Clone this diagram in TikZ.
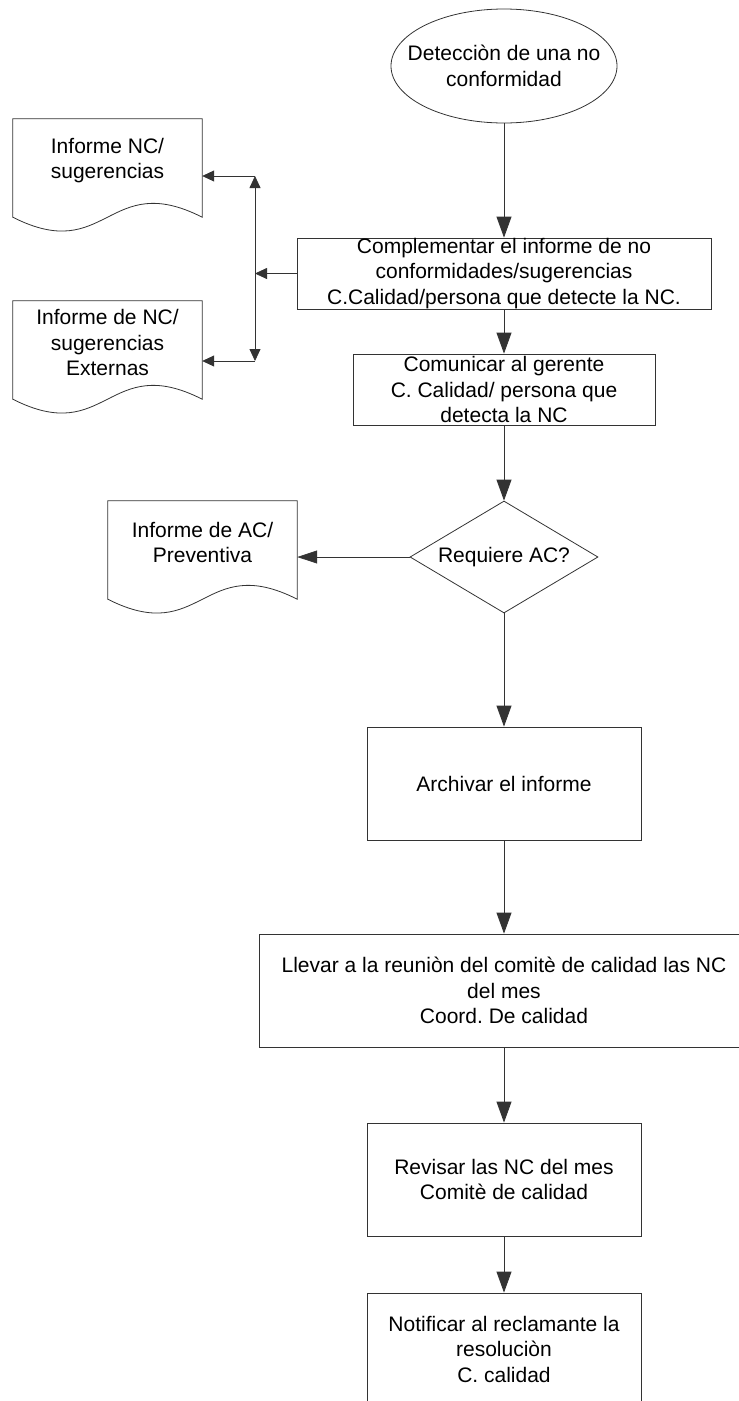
\documentclass[tikz,border=0pt]{standalone}
\usepackage{fontspec}
\setmainfont{Liberation Sans}
\usetikzlibrary{shapes.geometric,arrows.meta,calc}
\frenchspacing

% outline of a "document" symbol around a rectangular node: flat top, wavy bottom
\newcommand{\docoutline}[1]{%
  \draw[lineclr] (#1.north west) -- (#1.north east) -- ($(#1.south east)+(0,15)$)
    .. controls +(-94.5,-48) and +(94.5,48) .. ($(#1.south west)+(0,15)$) -- cycle;}

\begin{document}
\begin{tikzpicture}[x=1pt,y=-1pt,
  every node/.style={font=\fontsize{21}{25.5}\selectfont, align=center, inner sep=0pt},
  lineclr/.style={line width=0.8pt, draw=black!80},
  proc/.style={lineclr, rectangle},
  docbox/.style={rectangle, minimum width=189pt, minimum height=83pt},
  flow/.style={lineclr, -{Triangle[length=21pt,width=15pt]}},
  sideflow/.style={lineclr, -{Triangle[length=20pt,width=13pt]}},
  link/.style={lineclr, -{Triangle[length=12pt,width=11pt]}},
  twoway/.style={lineclr, {Triangle[length=12pt,width=11pt]}-{Triangle[length=12pt,width=11pt]}},
]
\useasboundingbox (0,0) rectangle (739,1401);
\clip (0,0) rectangle (739,1401);

% main column
\node[lineclr, ellipse, minimum width=226pt, minimum height=114pt] (ell) at (504,66) {};
\node (ellT) at (ell.center) {Detecciòn de una no\\conformidad};

\node[proc, minimum width=414pt, minimum height=71pt] (box1) at (504,273.5)
  {Complementar el informe de no\\conformidades/sugerencias\\C.Calidad/persona que detecte la NC.};

\node[proc, minimum width=302pt, minimum height=71pt] (box2) at (504,389.5)
  {Comunicar al gerente\\C. Calidad/ persona que\\detecta la NC};

\node[lineclr, diamond, aspect=1.68, minimum width=188pt, minimum height=112pt] (dia) at (504,557)
  {Requiere AC?};

\node[proc, minimum width=274pt, minimum height=113pt] (box3) at (504,783.5)
  {Archivar el informe};

\node[proc, minimum width=490pt, minimum height=113pt] (box4) at (504,990.5)
  {Llevar a la reuniòn del comitè de calidad las NC\\del mes\\Coord. De calidad};

\node[proc, minimum width=274pt, minimum height=113pt] (box5) at (504,1179.5)
  {Revisar las NC del mes\\Comitè de calidad};

\node[proc, minimum width=274pt, minimum height=112pt] (box6) at (504,1349)
  {Notificar al reclamante la\\resoluciòn\\C. calidad};

% documents on the left
\node[docbox] (doc1) at (107.5,160.5) {Informe NC/\\sugerencias};
\docoutline{doc1}
\node[docbox] (doc2) at (107.5,342.5) {Informe de NC/\\sugerencias\\Externas};
\docoutline{doc2}
\node[docbox] (doc3) at (202.5,542.5) {Informe de AC/\\Preventiva};
\docoutline{doc3}

% main flow
\draw[flow] (ell.south) -- (box1.north);
\draw[flow] (box1.south) -- (box2.north);
\draw[flow] (box2.south) -- (dia.north);
\draw[flow] (dia.south) -- (box3.north);
\draw[flow] (box3.south) -- (box4.north);
\draw[flow] (box4.south) -- (box5.north);
\draw[flow] (box5.south) -- (box6.north);

% branch to the reports
\coordinate (jn) at (255,273.5);
\coordinate (btop) at (255,176);
\coordinate (bbot) at (255,361);
\draw[link] (box1.west) -- (jn);
\draw[twoway] (btop) -- (bbot);
\draw[link] (btop) -- (btop -| doc1.east);
\draw[link] (bbot) -- (bbot -| doc2.east);

\draw[sideflow] (dia.west) -- (dia.west -| doc3.east);
\end{tikzpicture}
\end{document}
